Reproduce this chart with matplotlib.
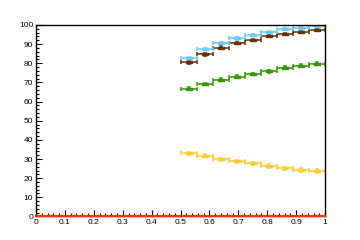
'''
Efficiency-style histograms, ROOT look.
'''

import numpy as np
import matplotlib
matplotlib.use('Agg')
import matplotlib.pyplot as plt
from matplotlib.ticker import MultipleLocator, FixedFormatter, FixedLocator

plt.rcParams['font.family'] = ['Liberation Sans', 'DejaVu Sans']

# bin centres (9 bins from 0.5 to 1.0)
bin_centers = [0.5278, 0.5833, 0.6389, 0.6944, 0.75, 0.8056, 0.8611, 0.9167, 0.9722]
bin_half = 0.5 / 9 / 2

cyan_vals = [82.9, 87.3, 90.4, 93.0, 94.6, 96.3, 97.9, 98.4, 99.3]
brown_vals = [80.5, 84.7, 88.2, 90.4, 92.2, 94.1, 95.5, 96.3, 97.2]
green_vals = [66.8, 69.2, 71.5, 73.0, 74.4, 75.8, 77.6, 78.6, 79.7]
yellow_vals = [33.1, 31.7, 29.9, 28.9, 27.8, 26.4, 25.2, 24.2, 23.7]

cyan_err = [0.6, 0.6, 0.6, 0.6, 0.5, 0.5, 0.5, 0.4, 0.4]
brown_err = [0.7, 0.7, 0.7, 0.6, 0.6, 0.6, 0.5, 0.5, 0.5]
green_err = [0.7, 0.7, 0.7, 0.7, 0.7, 0.7, 0.8, 0.8, 0.8]
yellow_err = [0.8, 0.8, 0.8, 0.8, 0.8, 1.0, 0.8, 1.0, 1.0]

zero_x = [0.0, 1.0]
zero_vals = [0.0, 0.0]

x_ticks = [0, 0.1, 0.2, 0.3, 0.4, 0.5, 0.6, 0.7, 0.8, 0.9, 1]
x_labels = ['0', '0.1', '0.2', '0.3', '0.4', '0.5', '0.6', '0.7', '0.8', '0.9', '1']
y_ticks = [0, 10, 20, 30, 40, 50, 60, 70, 80, 90, 100]
y_labels = ['0', '10', '20', '30', '40', '50', '60', '70', '80', '90', '100']

fig = plt.figure(figsize=(3.6, 2.4), dpi=100)
ax = fig.add_axes([0.1, 0.098, 0.803, 0.798])

rect = [(-1, -0.45), (1, -0.45), (1, 0.45), (-1, 0.45), (-1, -0.45)]

series = [
    (yellow_vals, yellow_err, '#ffcc33'),
    (green_vals, green_err, '#339900'),
    (brown_vals, brown_err, '#663300'),
    (cyan_vals, cyan_err, '#66ccff'),
]
for vals, errs, col in series:
    ax.errorbar(bin_centers, vals, xerr=bin_half, yerr=errs, fmt='none',
                ecolor=col, elinewidth=1.1, capsize=1.6, capthick=1.1)
    ax.plot(bin_centers, vals, linestyle='none', marker=rect, markersize=3.7,
            color=col)

ax.plot(zero_x, zero_vals, color='#ff3300', linewidth=1.6, clip_on=False, zorder=5)

ax.set_xlim(0, 1)
ax.set_ylim(0, 100)
ax.xaxis.set_major_locator(FixedLocator(x_ticks))
ax.xaxis.set_major_formatter(FixedFormatter(x_labels))
ax.yaxis.set_major_locator(FixedLocator(y_ticks))
ax.yaxis.set_major_formatter(FixedFormatter(y_labels))
ax.xaxis.set_minor_locator(MultipleLocator(0.02))
ax.yaxis.set_minor_locator(MultipleLocator(2))
ax.tick_params(which='both', direction='in', top=False, right=False,
               labelsize=6, width=0.8, pad=2)
ax.tick_params(which='major', length=4)
ax.tick_params(which='minor', length=2)
for s in ax.spines.values():
    s.set_linewidth(1.0)

fig.savefig('out.png', dpi=100)
